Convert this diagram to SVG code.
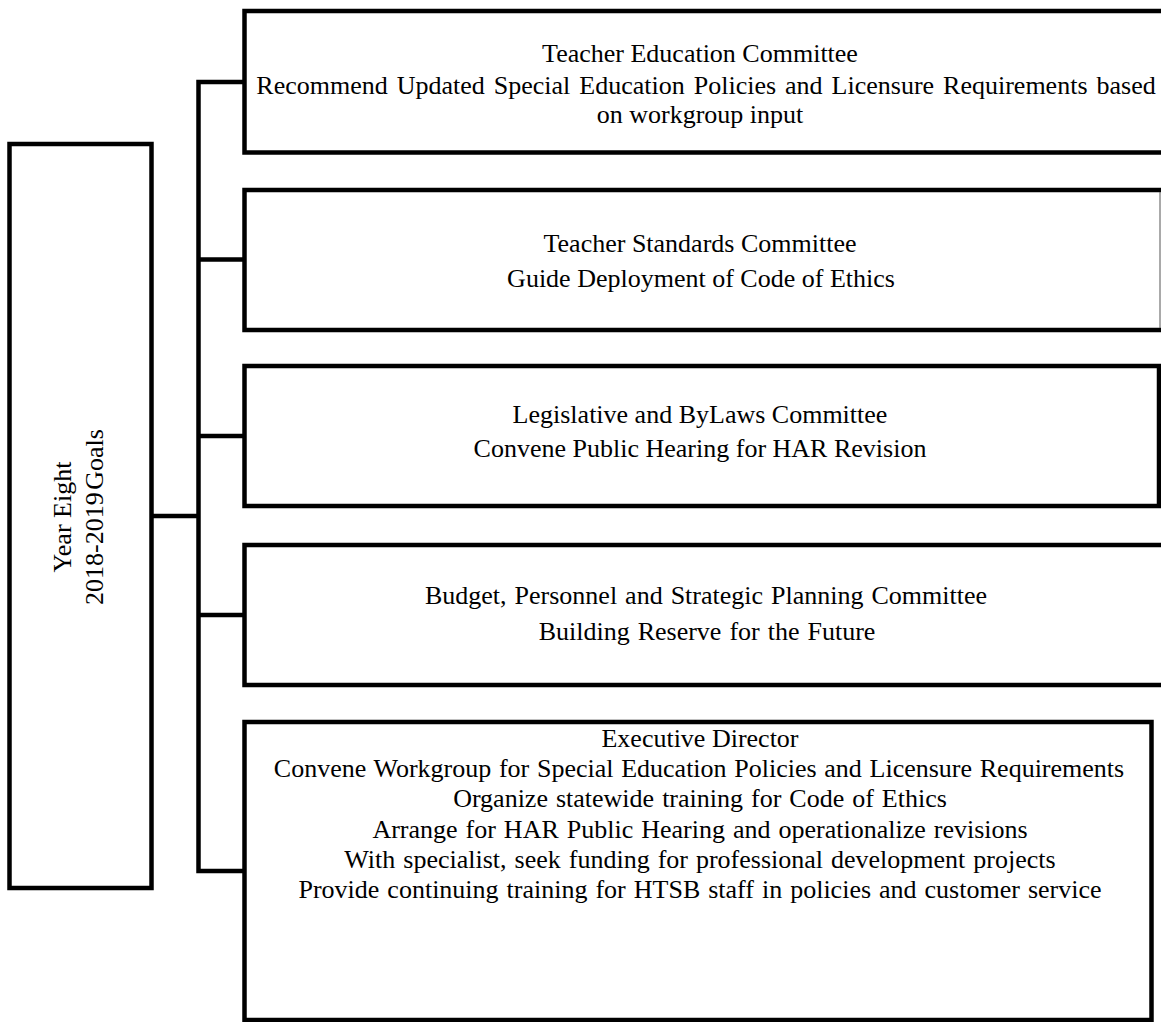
<svg xmlns="http://www.w3.org/2000/svg" width="1161" height="1022" viewBox="0 0 1161 1022">
<style>
.box{fill:#fff;stroke:#000;stroke-width:4.5}
.edge{fill:none;stroke:#000;stroke-width:4.5}
.thin{fill:none;stroke:#555;stroke-width:1}
.conn{fill:none;stroke:#000;stroke-width:4.5;stroke-linecap:square}
text{font-family:"Liberation Serif","Times New Roman",serif;font-size:26px;fill:#000;text-anchor:middle}
</style>
<rect width="1161" height="1022" fill="#fff"/>
<g id="connectors">
<path class="conn" d="M198.5,82 V871 M198.5,82 H244 M198.5,259.5 H244 M198.5,436 H244 M198.5,615 H244 M198.5,871 H244 M151.5,516 H198.5"/>
</g>
<g id="root">
<rect class="box" x="9.5" y="144" width="142" height="744"/>
<text transform="translate(71,517) rotate(-90)">Year Eight</text>
<text transform="translate(103,517) rotate(-90)" word-spacing="-4">2018-2019 Goals</text>
</g>
<g id="teacher-education">
<rect class="box" x="244.5" y="11" width="930" height="141.5"/>
<text x="700" y="62">Teacher Education Committee</text>
<text x="706" y="94" word-spacing="2.5">Recommend Updated Special Education Policies and Licensure Requirements based</text>
<text x="700" y="123">on workgroup input</text>
</g>
<g id="teacher-standards">
<rect x="244.5" y="190" width="915.5" height="140" fill="#fff"/>
<path class="edge" d="M1164,190 H244.5 V330 H1164"/>
<path class="thin" d="M1160,192 V328"/>
<text x="700" y="252">Teacher Standards Committee</text>
<text x="701" y="287">Guide Deployment of Code of Ethics</text>
</g>
<g id="legislative">
<rect class="box" x="244.5" y="366" width="914.5" height="140"/>
<text x="700" y="423">Legislative and ByLaws Committee</text>
<text x="700" y="457">Convene Public Hearing for HAR Revision</text>
</g>
<g id="budget">
<rect class="box" x="244.5" y="545" width="930" height="140"/>
<text x="706" y="604" word-spacing="1.5">Budget, Personnel and Strategic Planning Committee</text>
<text x="707" y="640" word-spacing="1.5">Building Reserve for the Future</text>
</g>
<g id="executive-director">
<rect class="box" x="244.5" y="722" width="907" height="298"/>
<text x="700" y="747">Executive Director</text>
<text x="699" y="777" word-spacing="1.2">Convene Workgroup for Special Education Policies and Licensure Requirements</text>
<text x="700" y="807" word-spacing="1.5">Organize statewide training for Code of Ethics</text>
<text x="700" y="838" word-spacing="1.5">Arrange for HAR Public Hearing and operationalize revisions</text>
<text x="700" y="868" word-spacing="1.5">With specialist, seek funding for professional development projects</text>
<text x="700" y="898" word-spacing="1.5">Provide continuing training for HTSB staff in policies and customer service</text>
</g>
</svg>
